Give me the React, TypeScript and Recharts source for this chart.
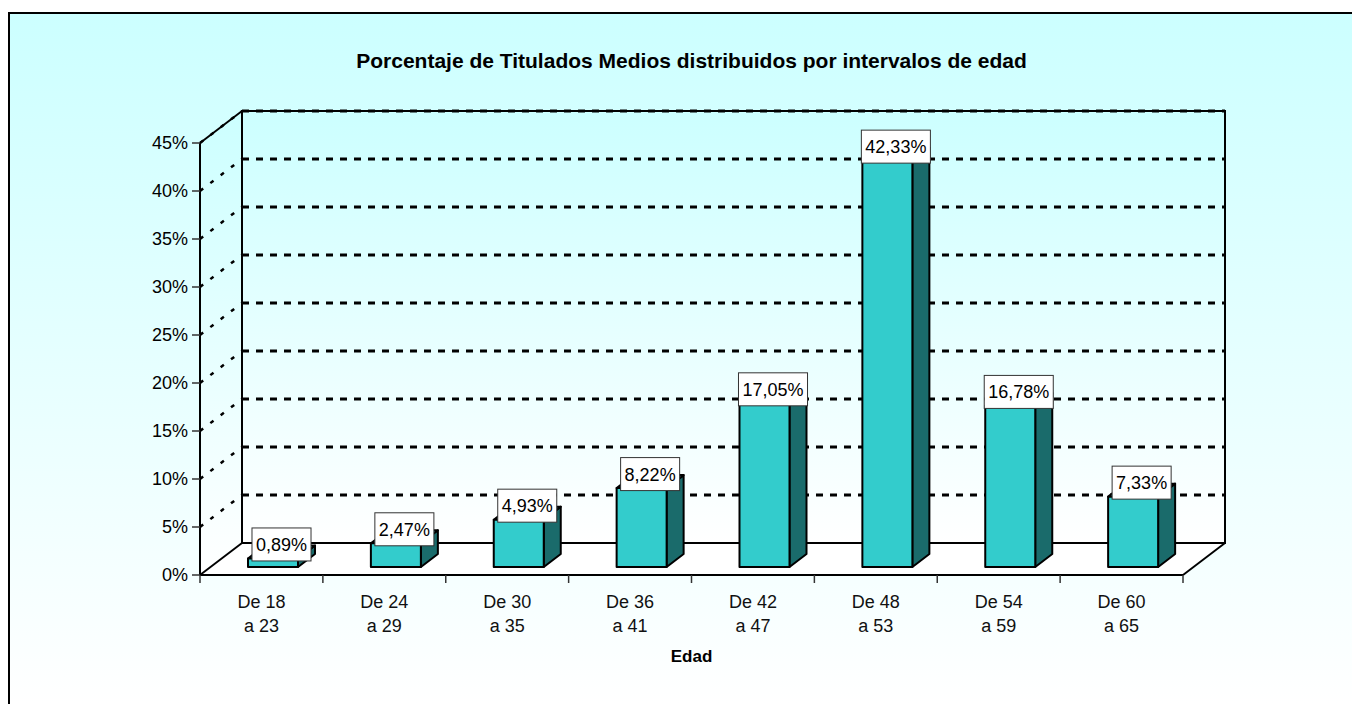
import React from "react";
import { BarChart, Bar, XAxis, YAxis, CartesianGrid, LabelList } from "recharts";

// Datos del gráfico
const desde = ["De 18", "De 24", "De 30", "De 36", "De 42", "De 48", "De 54", "De 60"];
const hasta = ["a 23", "a 29", "a 35", "a 41", "a 47", "a 53", "a 59", "a 65"];
const porcentajes = [0.89, 2.47, 4.93, 8.22, 17.05, 42.33, 16.78, 7.33];
const yTicks = [0, 5, 10, 15, 20, 25, 30, 35, 40, 45];

const titulo = "Porcentaje de Titulados Medios distribuidos por intervalos de edad";
const tituloEje = "Edad";

const data = desde.map((d, i) => ({ name: `${d} ${hasta[i]}`, valor: porcentajes[i] }));

// Layout
const W = 1342;
const H = 690;
const PLOT_LEFT = 190;
const PLOT_TOP = 129;
const PLOT_W = 983;
const PLOT_H = 432;
const Y_AXIS_W = 60;
const X_AXIS_H = 70;
const DEPTH_X = 42;
const DEPTH_Y = 32;
const FRONT_DX = 12;
const FRONT_DY = 8;
const BAR_DX = 17;
const BAR_DY = 13;
const FONT = "'Liberation Sans', Arial, sans-serif";

const formatPct = (v: number) => `${v.toFixed(2).replace(".", ",")}%`;

const textWidth = (s: string, size: number) => {
  let w = 0;
  for (const c of s) {
    if (c === ",") w += 0.278;
    else if (c === "%") w += 0.889;
    else w += 0.556;
  }
  return w * size;
};

// Paredes y suelo (fondo 3D)
const Walls = () => {
  const l = PLOT_LEFT;
  const b = PLOT_TOP + PLOT_H;
  const r = PLOT_LEFT + PLOT_W;
  const t = PLOT_TOP;
  return (
    <svg width={W} height={H} style={{ position: "absolute", left: 0, top: 0 }}>
      <defs>
        <linearGradient id="wallFill" x1="0" y1="0" x2="0" y2="1">
          <stop offset="0%" stopColor="#CCFFFF" />
          <stop offset="100%" stopColor="#FFFFFF" />
        </linearGradient>
      </defs>
      <text
        x={PLOT_LEFT + PLOT_W / 2}
        y={54}
        textAnchor="middle"
        fontFamily={FONT}
        fontWeight="bold"
        fontSize={21}
        fill="#000"
      >
        {titulo}
      </text>
      <polygon
        points={`${l},${b} ${l},${t} ${l + DEPTH_X},${t - DEPTH_Y} ${l + DEPTH_X},${b - DEPTH_Y}`}
        fill="url(#wallFill)"
      />
      <rect x={l + DEPTH_X} y={t - DEPTH_Y} width={PLOT_W} height={PLOT_H} fill="url(#wallFill)" />
      <polygon
        points={`${l},${b} ${l + DEPTH_X},${b - DEPTH_Y} ${r + DEPTH_X},${b - DEPTH_Y} ${r},${b}`}
        fill="#FFFFFF"
      />
      <g stroke="#000" strokeWidth={2} fill="none">
        <line x1={l} y1={t} x2={l + DEPTH_X} y2={t - DEPTH_Y} />
        <rect x={l + DEPTH_X} y={t - DEPTH_Y} width={PLOT_W} height={PLOT_H} />
        <line x1={l} y1={b} x2={l + DEPTH_X} y2={b - DEPTH_Y} />
        <line x1={r} y1={b} x2={r + DEPTH_X} y2={b - DEPTH_Y} />
      </g>
    </svg>
  );
};

const GridLine3D = (p: any) => {
  const { x1, y1, x2 } = p;
  if (y1 >= PLOT_TOP + PLOT_H - 1) return <g key={p.key} />;
  return (
    <g key={p.key}>
      <line
        x1={x1}
        y1={y1}
        x2={x1 + DEPTH_X}
        y2={y1 - DEPTH_Y}
        stroke="#000"
        strokeWidth={2.5}
        strokeDasharray="4 9"
      />
      <line
        x1={x1 + DEPTH_X}
        y1={y1 - DEPTH_Y}
        x2={x2 + DEPTH_X}
        y2={y1 - DEPTH_Y}
        stroke="#000"
        strokeWidth={3}
        strokeDasharray="7 7"
      />
    </g>
  );
};

const Bar3D = (props: any) => {
  const { x, y, width, height } = props;
  const fx = x + FRONT_DX;
  const fy = y - FRONT_DY;
  const h = Math.max(height, 0);
  return (
    <g stroke="#000" strokeWidth={2} strokeLinejoin="round">
      <polygon
        points={`${fx + width},${fy} ${fx + width + BAR_DX},${fy - BAR_DY} ${fx + width + BAR_DX},${fy + h - BAR_DY} ${fx + width},${fy + h}`}
        fill="#1A6B6B"
      />
      <polygon
        points={`${fx},${fy} ${fx + BAR_DX},${fy - BAR_DY} ${fx + width + BAR_DX},${fy - BAR_DY} ${fx + width},${fy}`}
        fill="#2AB0B0"
      />
      <rect x={fx} y={fy} width={width} height={h} fill="#33CCCC" />
    </g>
  );
};

const DataLabel = (props: any) => {
  const { x, y, width, value } = props;
  const txt = formatPct(Number(value));
  const bw = textWidth(txt, 18) + 8;
  const bh = 33;
  const cx = x + FRONT_DX + width / 2 + BAR_DX / 2;
  const cy = y - FRONT_DY - 14;
  return (
    <g>
      <rect x={cx - bw / 2} y={cy - bh / 2} width={bw} height={bh} fill="#FFFFFF" stroke="#333" strokeWidth={1} />
      <text x={cx} y={cy + 6.5} textAnchor="middle" fontFamily={FONT} fontSize={18} fill="#000">
        {txt}
      </text>
    </g>
  );
};

const CategoryTick = (props: any) => {
  const { x, y, index, payload } = props;
  const half = payload && payload.offset ? payload.offset : PLOT_W / desde.length / 2;
  const top = y - 8;
  const last = index === desde.length - 1;
  return (
    <g>
      <line x1={x - half} y1={top} x2={x - half} y2={top + 8} stroke="#333" strokeWidth={1.5} />
      {last && <line x1={x + half} y1={top} x2={x + half} y2={top + 8} stroke="#333" strokeWidth={1.5} />}
      <text x={x} y={top + 33} textAnchor="middle" fontFamily={FONT} fontSize={18} fill="#111">
        {desde[index]}
      </text>
      <text x={x} y={top + 57} textAnchor="middle" fontFamily={FONT} fontSize={18} fill="#111">
        {hasta[index]}
      </text>
    </g>
  );
};

const AxisTitle = (props: any) => {
  const vb = props.viewBox || {};
  return (
    <text
      x={vb.x + vb.width / 2}
      y={vb.y + 87}
      textAnchor="middle"
      fontFamily={FONT}
      fontWeight="bold"
      fontSize={17}
      fill="#000"
    >
      {tituloEje}
    </text>
  );
};

export default function App() {
  return (
    <div
      style={{
        position: "absolute",
        left: 8,
        top: 12,
        width: W,
        height: H,
        borderLeft: "2px solid #000",
        borderTop: "2px solid #000",
        background: "linear-gradient(to bottom, #CCFFFF 0%, #FFFFFF 100%)",
        overflow: "hidden",
      }}
    >
      <Walls />
      <div style={{ position: "absolute", left: 0, top: 0 }}>
        <BarChart
          width={W}
          height={H}
          data={data}
          margin={{
            top: PLOT_TOP,
            right: W - PLOT_LEFT - PLOT_W,
            left: PLOT_LEFT - Y_AXIS_W,
            bottom: H - PLOT_TOP - PLOT_H - X_AXIS_H,
          }}
        >
          <CartesianGrid vertical={false} horizontal={(p: any) => <GridLine3D {...p} />} />
          <XAxis
            dataKey="name"
            height={X_AXIS_H}
            interval={0}
            tickLine={false}
            tickSize={8}
            tickMargin={0}
            axisLine={{ stroke: "#000", strokeWidth: 2 }}
            tick={(p: any) => <CategoryTick {...p} />}
            label={(p: any) => <AxisTitle {...p} />}
          />
          <YAxis
            width={Y_AXIS_W}
            domain={[0, 45]}
            ticks={yTicks}
            interval={0}
            tickSize={8}
            tickMargin={4}
            tickFormatter={(v: number) => `${v}%`}
            tick={{ fill: "#000", fontSize: 18, fontFamily: FONT }}
            tickLine={{ stroke: "#333", strokeWidth: 1.5 }}
            axisLine={{ stroke: "#000", strokeWidth: 2 }}
          />
          <Bar dataKey="valor" barSize={50} isAnimationActive={false} shape={(p: any) => <Bar3D {...p} />}>
            <LabelList dataKey="valor" content={(p: any) => <DataLabel {...p} />} />
          </Bar>
        </BarChart>
      </div>
    </div>
  );
}
